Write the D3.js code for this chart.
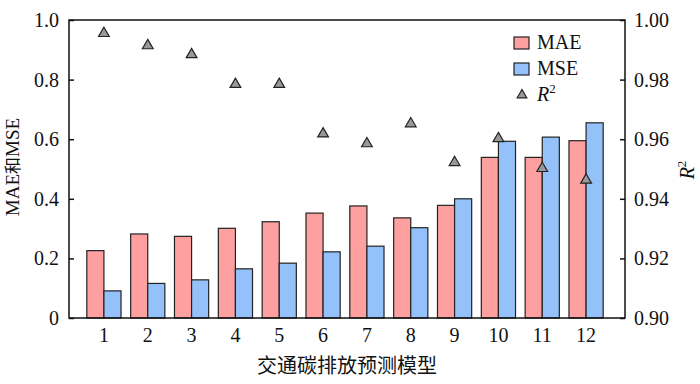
<!DOCTYPE html>
<html lang="zh">
<head>
<meta charset="UTF-8" />
<title>交通碳排放预测模型</title>
<script src="https://d3js.org/d3.v7.min.js"></script>
<style>
  body { margin: 0; background: #fff; }
</style>
</head>
<body>
<svg width="700" height="384"></svg>
<script>
  const models = ["1","2","3","4","5","6","7","8","9","10","11","12"];
  const maeVals = [0.226, 0.282, 0.274, 0.301, 0.323, 0.352, 0.376, 0.336, 0.378, 0.539, 0.539, 0.595];
  const mseVals = [0.091, 0.116, 0.128, 0.165, 0.184, 0.222, 0.241, 0.303, 0.400, 0.593, 0.607, 0.655];
  const r2Vals  = [0.9955, 0.9914, 0.9884, 0.9784, 0.9784, 0.9618, 0.9585, 0.9652, 0.9522, 0.9602, 0.9502, 0.9463];
  const leftTicks = [0, 0.2, 0.4, 0.6, 0.8, 1.0];
  const rightTicks = [0.90, 0.92, 0.94, 0.96, 0.98, 1.00];

  const SERIF = "'Liberation Serif', 'Times New Roman', 'DejaVu Serif', serif";
  const CJK = "'Noto Sans CJK SC', sans-serif";
  const colors = { MAE: "#ffa0a0", MSE: "#94c1fa", R2: "#999999" };
  const svg = d3.select("svg");
  const pLeft = 69, pRight = 625, pTop = 20, pBottom = 318;

  const x = d3.scaleBand().domain(models).range([82, 608]).paddingInner(0.22).paddingOuter(0.11);
  const xSub = d3.scaleBand().domain(["MAE", "MSE"]).range([0, x.bandwidth()]);
  const y = d3.scaleLinear().domain([0, 1]).range([pBottom, pTop]);
  const y2 = d3.scaleLinear().domain([0.9, 1.0]).range([pBottom, pTop]);

  // bars
  const g = svg.append("g");
  models.forEach((m, i) => {
    [["MAE", maeVals[i]], ["MSE", mseVals[i]]].forEach(([k, v]) => {
      g.append("rect")
        .attr("x", x(m) + xSub(k))
        .attr("y", y(v))
        .attr("width", xSub.bandwidth())
        .attr("height", y(0) - y(v))
        .attr("fill", colors[k])
        .attr("stroke", "#222")
        .attr("stroke-width", 1.2);
    });
  });

  // R2 triangles
  const tri = d3.symbol().type(d3.symbolTriangle).size(50);
  svg.append("g").selectAll("path")
    .data(r2Vals)
    .join("path")
    .attr("d", tri)
    .attr("transform", (d, i) => `translate(${x(models[i]) + x.bandwidth() / 2},${y2(d)})`)
    .attr("fill", colors.R2)
    .attr("stroke", "#222")
    .attr("stroke-width", 1.2);

  // frame
  svg.append("rect")
    .attr("x", pLeft).attr("y", pTop)
    .attr("width", pRight - pLeft).attr("height", pBottom - pTop)
    .attr("fill", "none").attr("stroke", "#111").attr("stroke-width", 1.5);

  // left axis
  const yAxis = d3.axisRight(y).tickValues(leftTicks).tickSize(5)
    .tickFormat(d => d === 0 ? "0" : d3.format(".1f")(d));
  const ya = svg.append("g").attr("transform", `translate(${pLeft},0)`).call(yAxis);
  ya.select(".domain").remove();
  ya.selectAll("line").attr("stroke", "#111").attr("stroke-width", 1.5);
  ya.selectAll("text").attr("x", -10).attr("text-anchor", "end")
    .style("font-family", SERIF).style("font-size", "20px").attr("fill", "#111");

  // right axis
  const y2Axis = d3.axisLeft(y2).tickValues(rightTicks).tickSize(5).tickFormat(d3.format(".2f"));
  const yb = svg.append("g").attr("transform", `translate(${pRight},0)`).call(y2Axis);
  yb.select(".domain").remove();
  yb.selectAll("line").attr("stroke", "#111").attr("stroke-width", 1.5);
  yb.selectAll("text").attr("x", 9).attr("text-anchor", "start")
    .style("font-family", SERIF).style("font-size", "20px").attr("fill", "#111");

  // x tick labels
  svg.append("g").selectAll("text")
    .data(models)
    .join("text")
    .attr("x", d => x(d) + x.bandwidth() / 2)
    .attr("y", 342)
    .attr("text-anchor", "middle")
    .style("font-family", SERIF).style("font-size", "20px").attr("fill", "#111")
    .text(d => d);

  // axis titles
  svg.append("text")
    .attr("x", (pLeft + pRight) / 2).attr("y", 373)
    .attr("text-anchor", "middle")
    .style("font-family", CJK).style("font-size", "20px").attr("fill", "#111")
    .text("交通碳排放预测模型");

  const yt = svg.append("text")
    .attr("transform", "translate(19,167) rotate(-90)")
    .attr("text-anchor", "middle")
    .style("font-family", SERIF).style("font-size", "19px").attr("fill", "#111");
  yt.append("tspan").text("MAE");
  yt.append("tspan").style("font-family", CJK).style("font-size", "17px").text("和");
  yt.append("tspan").text("MSE");

  const rt = svg.append("text")
    .attr("transform", "translate(694,170) rotate(-90)")
    .attr("text-anchor", "middle")
    .style("font-family", SERIF).style("font-size", "20px").attr("fill", "#111");
  rt.append("tspan").style("font-style", "italic").text("R");
  rt.append("tspan").style("font-size", "13px").attr("dy", -8).text("2");

  // legend
  const lg = svg.append("g");
  [["MAE", 37], ["MSE", 63]].forEach(([k, yy]) => {
    lg.append("rect").attr("x", 514).attr("y", yy).attr("width", 15).attr("height", 12)
      .attr("fill", colors[k]).attr("stroke", "#222").attr("stroke-width", 1.2);
    lg.append("text").attr("x", 537).attr("y", yy + 12)
      .style("font-family", SERIF).style("font-size", "20px").attr("fill", "#111").text(k);
  });
  lg.append("path").attr("d", d3.symbol().type(d3.symbolTriangle).size(40))
    .attr("transform", "translate(522,95)")
    .attr("fill", colors.R2).attr("stroke", "#222").attr("stroke-width", 1.2);
  const lt = lg.append("text").attr("x", 537).attr("y", 101)
    .style("font-family", SERIF).style("font-size", "20px").attr("fill", "#111");
  lt.append("tspan").style("font-style", "italic").text("R");
  lt.append("tspan").style("font-size", "13px").attr("dy", -8).text("2");
</script>
</body>
</html>
